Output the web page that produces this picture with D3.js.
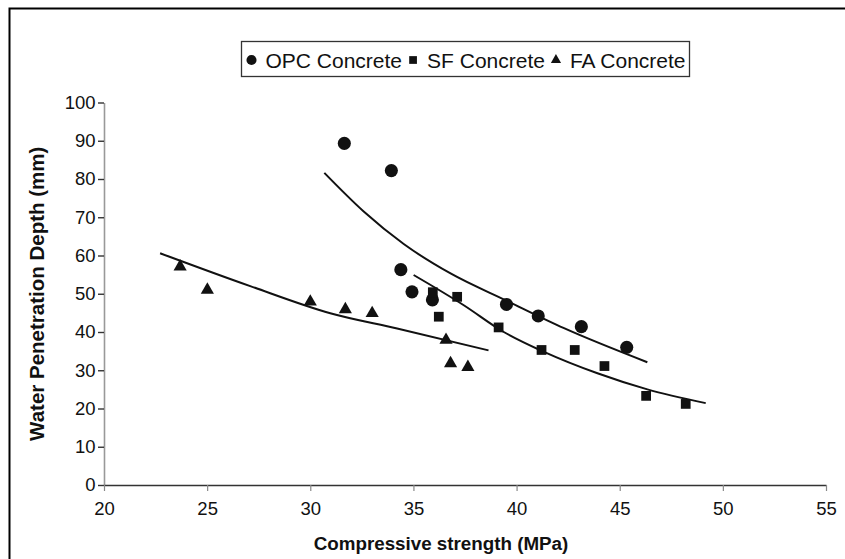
<!DOCTYPE html>
<html>
<head>
<meta charset="utf-8">
<script src="https://cdn.jsdelivr.net/npm/d3@7"></script>
<style>
  html, body { margin: 0; padding: 0; background: #fff; }
  svg { display: block; }
  text { font-family: "Liberation Sans", Arial, sans-serif; fill: #111; }
</style>
</head>
<body>
<svg id="chart" width="845" height="559"></svg>
<script>
// ---- data ----
const seriesNames = ["OPC Concrete", "SF Concrete", "FA Concrete"];
const seriesSymbols = ["circle", "square", "triangle"];

const opcX = [31.65, 33.93, 34.39, 34.93, 35.92, 39.51, 41.05, 43.14, 45.34];
const opcY = [89.3, 82.2, 56.3, 50.5, 48.4, 47.2, 44.2, 41.4, 36.0];

const sfX = [35.94, 37.12, 36.23, 39.13, 41.21, 42.82, 44.26, 46.28, 48.20];
const sfY = [50.4, 49.2, 44.0, 41.2, 35.3, 35.3, 31.1, 23.3, 21.2];

const faX = [23.69, 25.01, 30.00, 31.70, 33.00, 36.58, 36.80, 37.64];
const faY = [57.1, 51.0, 47.9, 45.9, 44.9, 37.9, 31.8, 30.8];

// trend lines
const opcTrendX = [30.68, 32.59, 34.53, 36.80, 39.51, 42.30, 46.34];
const opcTrendY = [81.6, 71.5, 63.0, 55.3, 48.2, 41.0, 32.1];
const sfTrendX = [35.01, 37.44, 39.38, 41.33, 43.92, 46.34, 49.17];
const sfTrendY = [54.9, 47.0, 40.0, 34.8, 29.2, 25.0, 21.4];
const faTrendX = [22.72, 27.09, 30.97, 34.21, 38.64];
const faTrendY = [60.6, 52.0, 44.9, 40.9, 35.2];

const xTicks = [20, 25, 30, 35, 40, 45, 50, 55];
const yTicks = [0, 10, 20, 30, 40, 50, 60, 70, 80, 90, 100];
const xTitle = "Compressive strength (MPa)";
const yTitle = "Water Penetration Depth (mm)";

// ---- drawing ----
const svg = d3.select("#chart");
const W = 845, H = 559;

// outer frame (top & left edges visible)
svg.append("path")
  .attr("d", `M9.5,${H} L9.5,8.5 L${W},8.5`)
  .attr("fill", "none").attr("stroke", "#000").attr("stroke-width", 2);

const x = d3.scaleLinear().domain([20, 55]).range([104, 826]);
const y = d3.scaleLinear().domain([0, 100]).range([485, 102.5]);

// y axis
const yAxis = svg.append("g").attr("transform", `translate(${x(20)},0)`)
  .call(d3.axisLeft(y).tickValues(yTicks).tickSize(6).tickSizeOuter(0).tickPadding(2.5));
yAxis.select(".domain").attr("stroke", "#999").attr("stroke-width", 1.6);
yAxis.selectAll(".tick line").attr("stroke", "#333").attr("stroke-width", 1.4);
yAxis.selectAll(".tick text").attr("font-size", 18.5).attr("fill", "#111")
  .style("font-family", "Liberation Sans, Arial, sans-serif");

// x axis
const xAxis = svg.append("g").attr("transform", `translate(0,${y(0)})`)
  .call(d3.axisBottom(x).tickValues(xTicks).tickSize(6).tickSizeOuter(0).tickPadding(11));
xAxis.select(".domain").attr("stroke", "#333").attr("stroke-width", 1.6);
xAxis.selectAll(".tick line").attr("stroke", "#888").attr("stroke-width", 1.2);
xAxis.selectAll(".tick text").attr("font-size", 18.5).attr("fill", "#111")
  .style("font-family", "Liberation Sans, Arial, sans-serif");

// axis titles
svg.append("text")
  .attr("x", 441).attr("y", 550)
  .attr("text-anchor", "middle").attr("font-size", 18.8).attr("font-weight", "bold")
  .text(xTitle);
svg.append("text")
  .attr("transform", `translate(44,${(y(0) + y(100)) / 2}) rotate(-90)`)
  .attr("text-anchor", "middle").attr("font-size", 20.5).attr("font-weight", "bold")
  .text(yTitle);

// trend lines
const line = d3.line().x(d => x(d[0])).y(d => y(d[1])).curve(d3.curveMonotoneX);
[[opcTrendX, opcTrendY], [sfTrendX, sfTrendY], [faTrendX, faTrendY]].forEach(([xs, ys]) => {
  svg.append("path")
    .attr("d", line(xs.map((v, i) => [v, ys[i]])))
    .attr("fill", "none").attr("stroke", "#111").attr("stroke-width", 2);
});

// markers
const symType = { circle: d3.symbolCircle, square: d3.symbolSquare, triangle: d3.symbolTriangle };
const symSize = { circle: 135, square: 95, triangle: 75 };
const allSeries = [[opcX, opcY], [sfX, sfY], [faX, faY]];
allSeries.forEach(([xs, ys], si) => {
  const s = seriesSymbols[si];
  svg.append("g").selectAll("path").data(xs.map((v, i) => [v, ys[i]])).join("path")
    .attr("d", d3.symbol().type(symType[s]).size(symSize[s]))
    .attr("transform", d => `translate(${x(d[0])},${y(d[1])})`)
    .attr("fill", "#111");
});

// legend
const lg = svg.append("g");
lg.append("rect")
  .attr("x", 241.5).attr("y", 41.5).attr("width", 448).attr("height", 35)
  .attr("fill", "#fff").attr("stroke", "#333").attr("stroke-width", 1.3);
const legSize = { circle: 80, square: 60, triangle: 45 };
let cx = 246.5;
const cy = 60;
seriesNames.forEach((name, i) => {
  const s = seriesSymbols[i];
  lg.append("path")
    .attr("d", d3.symbol().type(symType[s]).size(legSize[s]))
    .attr("transform", `translate(${cx + 5},${cy})`)
    .attr("fill", "#111");
  cx += 19;
  const t = lg.append("text").attr("x", cx).attr("y", cy + 7.5)
    .attr("font-size", 21).text(name);
  cx += t.node().getComputedTextLength() + 6;
});
</script>
</body>
</html>
